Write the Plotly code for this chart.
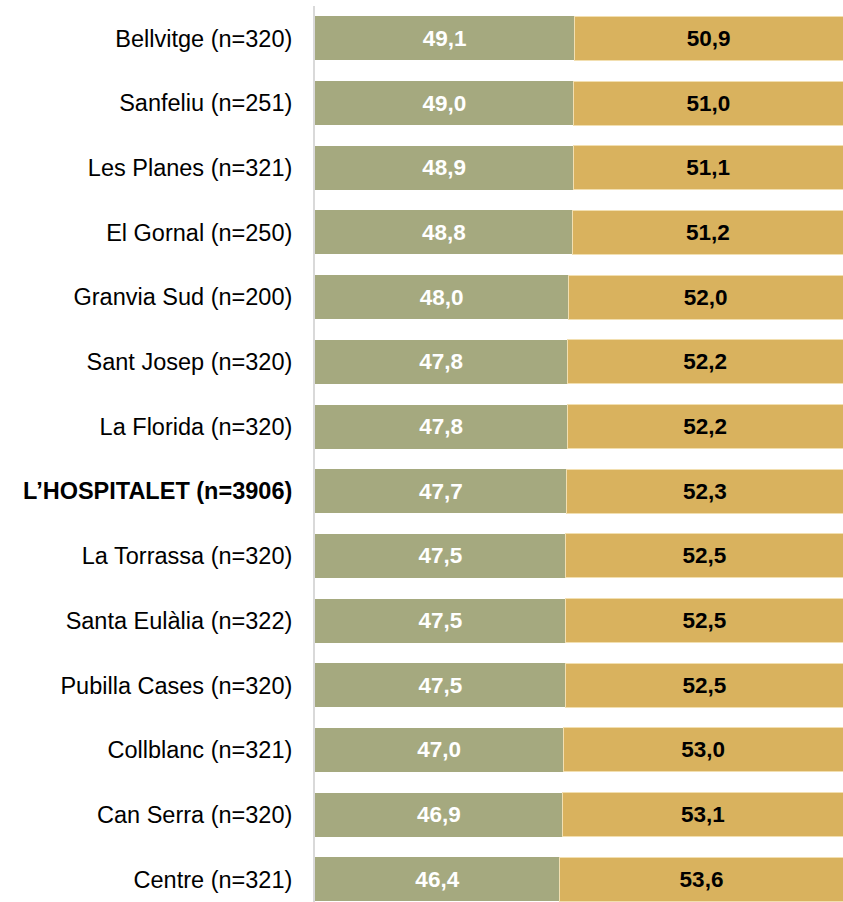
import plotly.graph_objects as go

categories = ["Bellvitge (n=320)", "Sanfeliu (n=251)", "Les Planes (n=321)", "El Gornal (n=250)",
              "Granvia Sud (n=200)", "Sant Josep (n=320)", "La Florida (n=320)",
              "<b>L’HOSPITALET (n=3906)</b>", "La Torrassa (n=320)", "Santa Eulàlia (n=322)",
              "Pubilla Cases (n=320)", "Collblanc (n=321)", "Can Serra (n=320)", "Centre (n=321)"]
series_a = [49.1, 49.0, 48.9, 48.8, 48.0, 47.8, 47.8, 47.7, 47.5, 47.5, 47.5, 47.0, 46.9, 46.4]
series_b = [50.9, 51.0, 51.1, 51.2, 52.0, 52.2, 52.2, 52.3, 52.5, 52.5, 52.5, 53.0, 53.1, 53.6]

font = "Liberation Sans, Arial, sans-serif"
ypos = list(range(len(categories)))

fig = go.Figure()
fig.add_trace(go.Bar(
    y=ypos, x=series_a, orientation="h",
    marker=dict(color="#A5A97F", line=dict(width=0)),
    texttemplate="<b>%{x:.1f}</b>", textposition="inside", insidetextanchor="middle",
    textangle=0, constraintext="none",
    textfont=dict(family=font, size=22.5, color="white"),
    hoverinfo="skip",
))
fig.add_trace(go.Bar(
    y=ypos, x=series_b, orientation="h",
    marker=dict(color="#D9B25E", line=dict(width=1, color="#F2DFB0")),
    texttemplate="<b>%{x:.1f}</b>", textposition="inside", insidetextanchor="middle",
    textangle=0, constraintext="none",
    textfont=dict(family=font, size=22.5, color="black"),
    hoverinfo="skip",
))
fig.update_layout(
    barmode="stack", bargap=0.32,
    width=843, height=902,
    margin=dict(l=315, r=0, t=6, b=0),
    plot_bgcolor="white", paper_bgcolor="white",
    showlegend=False, separators=", ",
    font=dict(family=font, size=23.5, color="black"),
    xaxis=dict(range=[0, 100], visible=False, fixedrange=True),
    yaxis=dict(tickmode="array", tickvals=ypos, ticktext=categories,
               range=[13.35, -0.5], showline=True, linecolor="#D9D9D9", linewidth=2,
               showgrid=False, zeroline=False, ticks="", ticklabelstandoff=16,
               fixedrange=True,
               tickfont=dict(family=font, size=23.5, color="black")),
)
fig.write_html("out.html", config={"displayModeBar": False},
               post_script="document.body.style.margin='0';document.body.style.overflow='hidden';")
